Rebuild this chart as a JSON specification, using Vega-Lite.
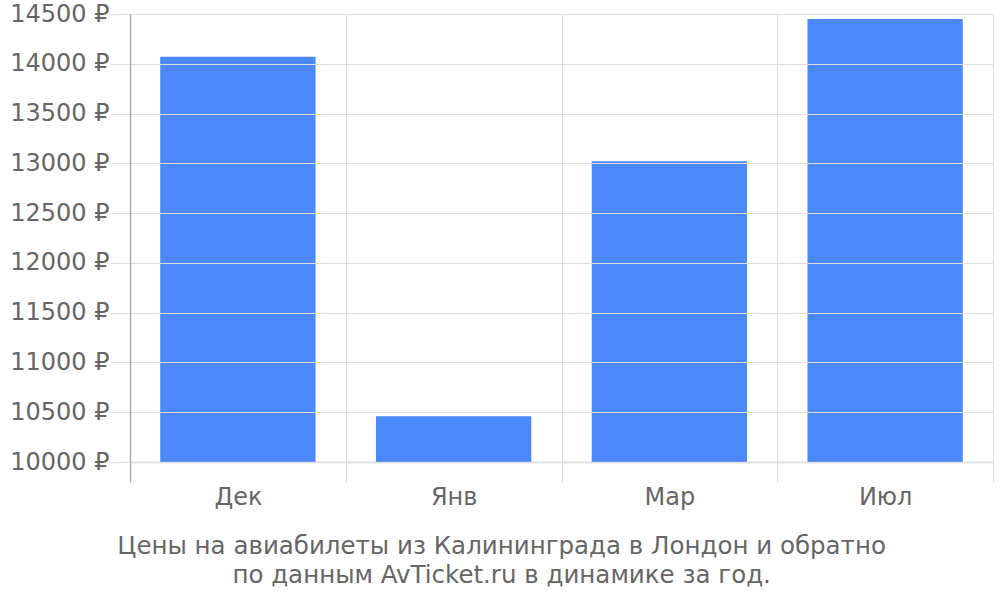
{
  "$schema": "https://vega.github.io/schema/vega-lite/v6.json",
  "width": 863,
  "height": 448,
  "autosize": {"type": "none"},
  "padding": {"left": 130, "top": 14, "right": 7, "bottom": 138},
  "background": "white",
  "data": {"values": [
    {"month": "Дек", "price": 14070},
    {"month": "Янв", "price": 10460},
    {"month": "Мар", "price": 13020},
    {"month": "Июл", "price": 14450}
  ]},
  "title": {
    "text": ["Цены на авиабилеты из Калининграда в Лондон и обратно", "по данным AvTicket.ru в динамике за год."],
    "orient": "bottom",
    "anchor": "middle",
    "frame": "bounds",
    "font": "DejaVu Sans",
    "fontSize": 24.5,
    "fontWeight": "normal",
    "color": "#666666",
    "lineHeight": 29,
    "offset": 26
  },
  "config": {
    "view": {"stroke": null},
    "font": "DejaVu Sans"
  },
  "mark": {"type": "bar", "color": "#4b89fa", "clip": true, "width": {"band": 0.72}},
  "encoding": {
    "x": {
      "field": "month",
      "type": "nominal",
      "sort": null,
      "scale": {"paddingInner": 0, "paddingOuter": 0},
      "axis": {
        "title": null,
        "labelAngle": 0,
        "labelFont": "DejaVu Sans",
        "labelFontSize": 24,
        "labelColor": "#666666",
        "labelPadding": 3,
        "tickBand": "extent",
        "tickSize": 20,
        "tickColor": {"expr": "(datum.index != 0 && datum.index < 0.1) ? '#aaaaaa' : '#dddddd'"},
        "tickWidth": {"expr": "(datum.index != 0 && datum.index < 0.1) ? 1.5 : 1"},
        "grid": true,
        "gridColor": "#dddddd",
        "domainColor": "#cccccc",
        "domainWidth": 1.5,
        "zindex": 1
      }
    },
    "y": {
      "field": "price",
      "type": "quantitative",
      "scale": {"domain": [10000, 14500], "zero": false, "nice": false},
      "axis": {
        "title": null,
        "values": [10000, 10500, 11000, 11500, 12000, 12500, 13000, 13500, 14000, 14500],
        "labelExpr": "datum.value + ' ₽'",
        "labelFont": "DejaVu Sans",
        "labelFontSize": 24,
        "labelColor": "#666666",
        "labelPadding": 1,
        "tickSize": 20,
        "tickColor": "#dddddd",
        "gridColor": "#dddddd",
        "domainColor": "#aaaaaa",
        "domainWidth": 1.5,
        "zindex": 2
      }
    }
  }
}
